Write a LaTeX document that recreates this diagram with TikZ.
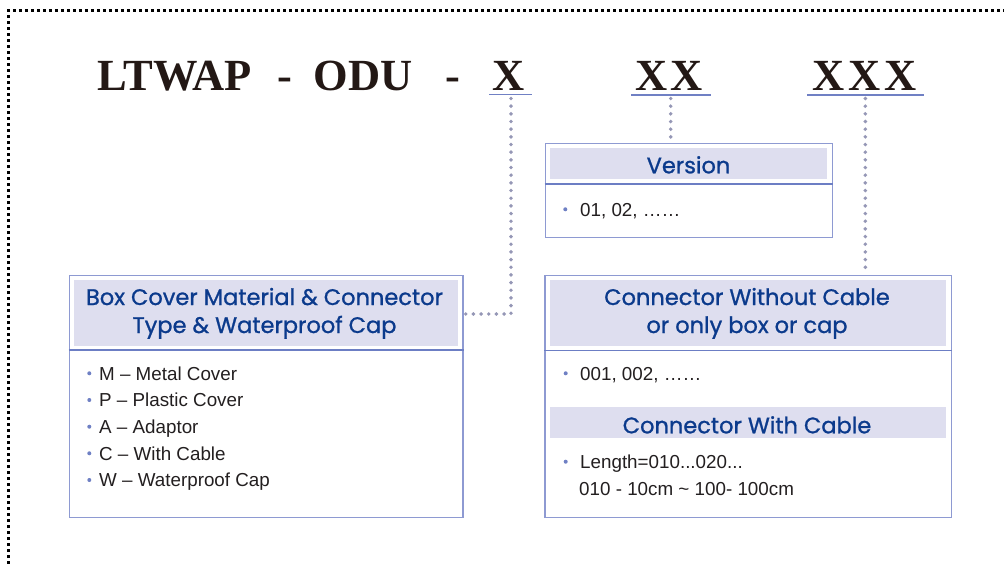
\documentclass[tikz,border=0pt]{standalone}
\usepackage{fontspec}
\setmainfont{Liberation Sans}
\newfontfamily\titlefont{Liberation Serif}
\newfontfamily\hdfont{Poppins}[FakeBold=1.0]
\definecolor{ttlc}{HTML}{231815}
\definecolor{boxc}{HTML}{8E9AD2}
\definecolor{divc}{HTML}{6C7EC4}
\definecolor{bandc}{HTML}{DEDEEF}
\definecolor{hdc}{HTML}{0B3A8C}
\definecolor{txtc}{HTML}{231F20}
\definecolor{bulc}{HTML}{6F80C4}
\definecolor{connc}{HTML}{9597B6}
\definecolor{ulc}{HTML}{7080C4}
\begin{document}
\begin{tikzpicture}[x=1pt,y=-1pt,
  ttl/.style={inner sep=0pt, text=ttlc, font=\titlefont\bfseries\fontsize{44.5}{44.5}\selectfont},
  ulstyle/.style={draw=ulc, line width=1.6pt},
  conn/.style={draw=connc, line width=3.9pt, dash pattern=on 0pt off 7.67pt, line cap=round},
  outer/.style={draw=black, line width=2.7pt, dash pattern=on 2.7pt off 3.3pt},
  boxstyle/.style={draw=boxc, line width=1.2pt, fill=white, inner sep=0pt, anchor=north west},
  bandstyle/.style={fill=bandc, inner sep=0pt, anchor=north west},
  divstyle/.style={draw=divc, line width=1.2pt},
  hd/.style={inner sep=0pt, text=hdc, font=\hdfont\fontsize{22.5}{28}\selectfont, align=center},
  body/.style={inner sep=0pt, text=txtc, font=\fontsize{18.8}{26.7}\selectfont, anchor=base west},
  bul/.style={fill=bulc}
]
\useasboundingbox (0,0) rectangle (1004,564);
\fill[white] (0,0) rectangle (1004,564);
\begin{scope}
\clip (0,0) rectangle (1004,564);
\draw[outer] (8.5,600) -- (8.5,10.5) -- (1040,10.5);
\end{scope}

% title
\node[ttl, anchor=base west] (t1) at (97.5,90.5) {LTWAP};
\node[ttl, anchor=base west] (t2) at (277,90.5) {-};
\node[ttl, anchor=base west] (t3) at (313.5,90.5) {ODU};
\node[ttl, anchor=base west] (t4) at (445.5,90.5) {-};
\node[ttl, anchor=base west] (t5) at (492,90.5) {X};
\node[ttl, anchor=base west] (t6) at (635,90.5) {X\hspace{3.5pt}X};
\node[ttl, anchor=base west] (t7) at (812,90.5) {X\hspace{4pt}X\hspace{4pt}X};

\coordinate (u1a) at (489,94.5); \coordinate (u1b) at (531.5,94.5);
\coordinate (u2a) at (631,95); \coordinate (u2b) at (710.5,95);
\coordinate (u3a) at (807,95); \coordinate (u3b) at (924,95);
\draw[ulstyle] (u1a) -- (u1b);
\draw[ulstyle] (u2a) -- (u2b);
\draw[ulstyle] (u3a) -- (u3b);

% boxes
\node[boxstyle, minimum width=287.3, minimum height=94.5] (vbox) at (544.7,142.8) {};
\node[boxstyle, minimum width=393.6, minimum height=242] (lbox) at (68.7,274.7) {};
\node[boxstyle, minimum width=406.4, minimum height=242] (rbox) at (544.3,274.7) {};

% connectors
\coordinate (s1) at (511,98.5);
\coordinate (s2) at (670.7,98.5);
\coordinate (s3) at (865.3,98.5);
\coordinate (e1) at (463.5,314);
\draw[conn] (s1) |- (e1);
\draw[conn] (s2) -- (vbox.north -| s2);
\draw[conn] (s3) -- (rbox.north -| s3);

% version box
\node[bandstyle, minimum width=277, minimum height=31.3] (vband) at (550,148) {};
\draw[divstyle] (vbox.west |- 0,184) coordinate (vd1) -- (vbox.east |- vd1);
\node[hd, anchor=base] (vhd) at (688.5,173.3) {Version};
\fill[bul] (565.3,209.3) circle[radius=2pt] coordinate (vb1);
\node[body] (vt1) at (580,216.7) {01, 02, ……};

% left box
\node[bandstyle, minimum width=383.3, minimum height=65.5] (lband) at (74,280) {};
\draw[divstyle] (lbox.west |- 0,350) coordinate (ld1) -- (lbox.east |- ld1);
\node[hd, anchor=base] (lhd1) at (264.5,305) {Box Cover Material \& Connector};
\node[hd, anchor=base] (lhd2) at (264.5,333) {Type \& Waterproof Cap};
\fill[bul] (89.3,373.3) circle[radius=2pt] coordinate (lb1);
\fill[bul] (89.3,400) circle[radius=2pt] coordinate (lb2);
\fill[bul] (89.3,426.7) circle[radius=2pt] coordinate (lb3);
\fill[bul] (89.3,453.3) circle[radius=2pt] coordinate (lb4);
\fill[bul] (89.3,480) circle[radius=2pt] coordinate (lb5);
\node[body] (lt1) at (99,380) {M – Metal Cover};
\node[body] (lt2) at (99,406.7) {P – Plastic Cover};
\node[body] (lt3) at (99,433.3) {A – Adaptor};
\node[body] (lt4) at (99,460) {C – With Cable};
\node[body] (lt5) at (99,486.7) {W – Waterproof Cap};

% right box
\node[bandstyle, minimum width=396, minimum height=65.5] (rband) at (549.3,280) {};
\draw[divstyle] (rbox.west |- 0,350.3) coordinate (rd1) -- (rbox.east |- rd1);
\node[hd, anchor=base] (rhd1) at (747,305) {Connector Without Cable};
\node[hd, anchor=base] (rhd2) at (747,333) {or only box or cap};
\fill[bul] (565.7,373.3) circle[radius=2pt] coordinate (rb1);
\node[body] (rt1) at (580,380) {001, 002, ……};
\node[bandstyle, minimum width=396, minimum height=31] (rband2) at (549.3,406.7) {};
\node[hd, anchor=base] (rhd3) at (747,433.3) {Connector With Cable};
\fill[bul] (565.7,461.7) circle[radius=2pt] coordinate (rb2);
\node[body] (rt2) at (580,468.3) {Length=010...020...};
\node[body] (rt3) at (579,495) {010 - 10cm \textasciitilde{} 100- 100cm};
\end{tikzpicture}
\end{document}
